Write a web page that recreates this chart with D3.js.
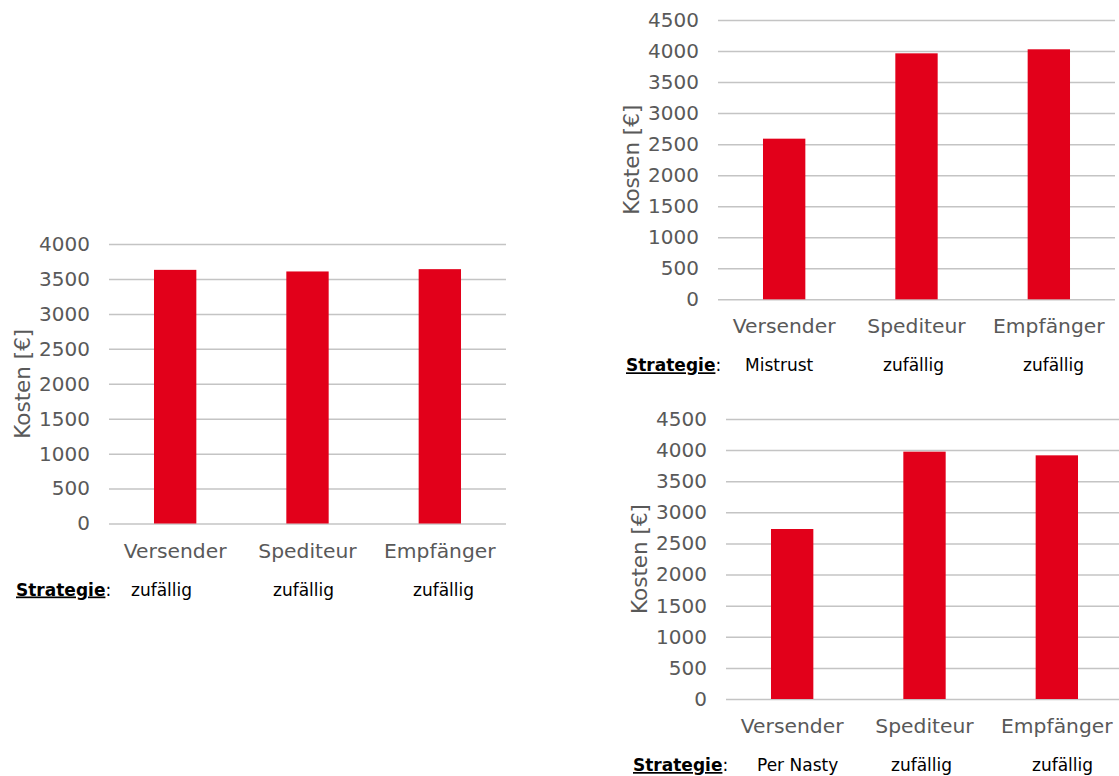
<!DOCTYPE html>
<html>
<head>
<meta charset="utf-8">
<script src="https://cdn.jsdelivr.net/npm/d3@7"></script>
<style>
  html, body { margin: 0; padding: 0; background: #fff; }
  svg { display: block; font-family: "DejaVu Sans", Verdana, sans-serif; }
</style>
</head>
<body>
<svg id="chart" width="1119" height="776"></svg>
<script>
// Kosten je Akteur in drei Szenarien
const categories = ["Versender", "Spediteur", "Empfänger"];

const costsRandom   = [3630, 3607, 3640];   // alle zufällig
const costsMistrust = [2588, 3963, 4028];   // Versender: Mistrust
const costsPerNasty = [2732, 3975, 3916];   // Versender: Per Nasty

const strategiesRandom   = ["zufällig", "zufällig", "zufällig"];
const strategiesMistrust = ["Mistrust", "zufällig", "zufällig"];
const strategiesPerNasty = ["Per Nasty", "zufällig", "zufällig"];

const ticksTo4000 = [0, 500, 1000, 1500, 2000, 2500, 3000, 3500, 4000];
const ticksTo4500 = [0, 500, 1000, 1500, 2000, 2500, 3000, 3500, 4000, 4500];

const yTitle = "Kosten [€]";
const strategyHeading = "Strategie";

// Panel layout (pixel geometry only)
const panels = [
  { values: costsRandom,   strategies: strategiesRandom,   ticks: ticksTo4000,
    left: 109, top: 244, bottom: 523.5, width: 397,
    headX: 16, stratX: [131, 273, 413] },
  { values: costsMistrust, strategies: strategiesMistrust, ticks: ticksTo4500,
    left: 718, top: 20, bottom: 299.3, width: 397,
    headX: 626, stratX: [745, 883, 1023] },
  { values: costsPerNasty, strategies: strategiesPerNasty, ticks: ticksTo4500,
    left: 726, top: 419, bottom: 699, width: 397,
    headX: 633, stratX: [757, 891, 1032] }
];

const BAR = "#e2001a";
const GRID = "#c4c4c4";
const AXIS_TEXT = "#595959";

const svg = d3.select("#chart");

panels.forEach(p => {
  const g = svg.append("g");
  const yMax = d3.max(p.ticks);

  const x = d3.scaleBand()
    .domain(categories)
    .range([p.left, p.left + p.width])
    .paddingInner(0.68)
    .paddingOuter(0.34);

  const y = d3.scaleLinear()
    .domain([0, yMax])
    .range([p.bottom, p.top]);

  // horizontal gridlines
  const grid = g.append("g")
    .attr("transform", `translate(${p.left},0)`)
    .call(d3.axisLeft(y).tickValues(p.ticks).tickSize(-p.width).tickFormat(""));
  grid.select(".domain").remove();
  grid.selectAll(".tick line").attr("stroke", GRID).attr("stroke-width", 1.5);

  // value tick labels
  const yAxis = g.append("g")
    .attr("transform", `translate(${p.left - 19},0)`)
    .call(d3.axisLeft(y).tickValues(p.ticks).tickSize(0).tickPadding(0).tickFormat(d3.format("d")));
  yAxis.select(".domain").remove();
  yAxis.selectAll("text")
    .attr("fill", AXIS_TEXT)
    .style("font-size", "20px")
    .style("font-family", "DejaVu Sans, Verdana, sans-serif");

  // bars
  g.append("g").selectAll("rect")
    .data(p.values)
    .join("rect")
    .attr("x", (d, i) => x(categories[i]))
    .attr("y", d => y(d))
    .attr("width", x.bandwidth())
    .attr("height", d => y(0) - y(d))
    .attr("fill", BAR);

  // category labels
  const xAxis = g.append("g")
    .attr("transform", `translate(0,${p.bottom})`)
    .call(d3.axisBottom(x).tickSize(0).tickPadding(0));
  xAxis.select(".domain").remove();
  xAxis.selectAll("text")
    .attr("fill", AXIS_TEXT)
    .attr("dy", null)
    .attr("y", 34)
    .style("font-size", "20.3px")
    .style("font-family", "DejaVu Sans, Verdana, sans-serif");

  // y-axis title
  g.append("text")
    .attr("transform", `translate(${p.left - 79},${(p.top + p.bottom) / 2}) rotate(-90)`)
    .attr("text-anchor", "middle")
    .attr("fill", AXIS_TEXT)
    .style("font-size", "21.5px")
    .text(yTitle);

  // strategy row
  const rowY = p.bottom + 72;
  const head = g.append("text")
    .attr("x", p.headX)
    .attr("y", rowY)
    .attr("fill", "#000")
    .style("font-size", "17px");
  head.append("tspan")
    .style("font-weight", "bold")
    .style("text-decoration", "underline")
    .text(strategyHeading);
  head.append("tspan").text(":");

  g.append("g").selectAll("text")
    .data(p.strategies)
    .join("text")
    .attr("x", (d, i) => p.stratX[i])
    .attr("y", rowY)
    .attr("fill", "#000")
    .style("font-size", "17px")
    .text(d => d);
});
</script>
</body>
</html>
